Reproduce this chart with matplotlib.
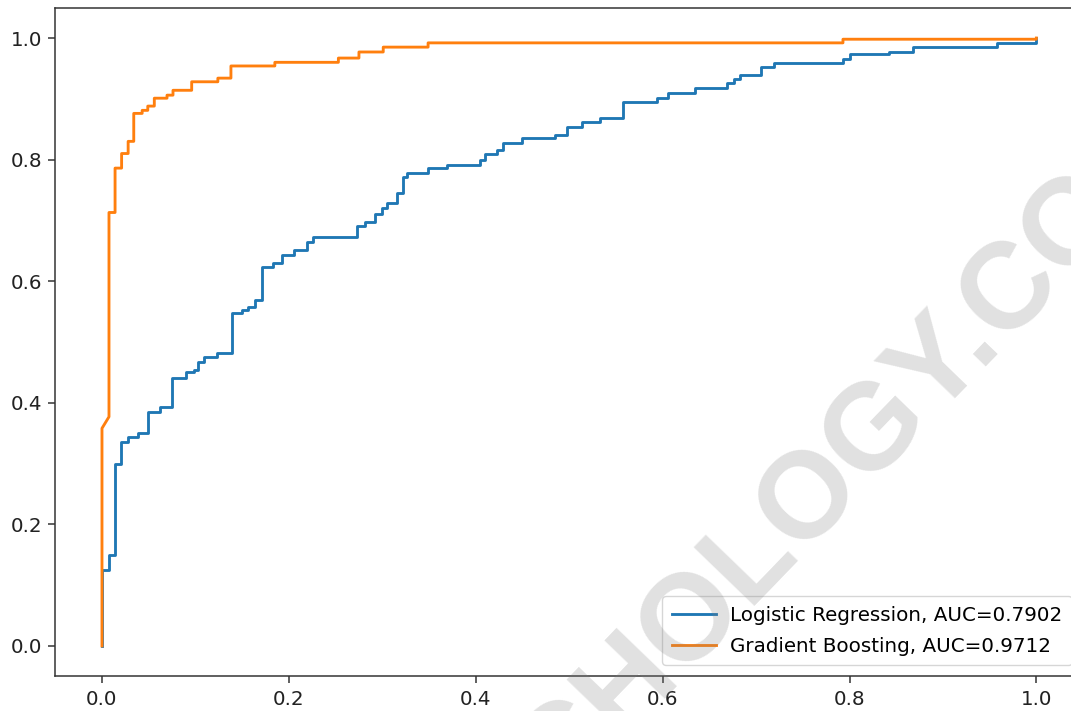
import matplotlib
matplotlib.use("Agg")
import matplotlib.pyplot as plt
import numpy as np

# ROC corner points (top of each vertical step)
lr_fpr = [0.0, 0.0, 0.007, 0.014, 0.020, 0.028, 0.039, 0.049, 0.062, 0.075,
          0.090, 0.098, 0.103, 0.109, 0.123, 0.139, 0.1495, 0.156, 0.164, 0.171,
          0.183, 0.193, 0.205, 0.219, 0.226, 0.273, 0.282, 0.292, 0.300, 0.305,
          0.316, 0.322, 0.326, 0.349, 0.369, 0.405, 0.410, 0.423, 0.429, 0.450,
          0.485, 0.498, 0.514, 0.533, 0.558, 0.594, 0.606, 0.635, 0.669, 0.676,
          0.683, 0.705, 0.719, 0.793, 0.801, 0.842, 0.868, 0.958, 1.0]
lr_tpr = [0.0, 0.125, 0.150, 0.300, 0.336, 0.344, 0.350, 0.385, 0.393, 0.440,
          0.450, 0.454, 0.467, 0.475, 0.482, 0.547, 0.553, 0.558, 0.569, 0.624,
          0.630, 0.643, 0.651, 0.665, 0.673, 0.690, 0.698, 0.710, 0.720, 0.728,
          0.745, 0.772, 0.778, 0.786, 0.791, 0.799, 0.810, 0.816, 0.827, 0.835,
          0.840, 0.854, 0.862, 0.868, 0.895, 0.902, 0.909, 0.918, 0.926, 0.932,
          0.939, 0.952, 0.959, 0.965, 0.974, 0.977, 0.985, 0.992, 1.0]

gb_fpr = [0.0, 0.0, 0.0075, 0.0075, 0.014, 0.021, 0.028, 0.034, 0.043, 0.049,
          0.056, 0.0696, 0.076, 0.096, 0.124, 0.138, 0.185, 0.253, 0.275, 0.301,
          0.349, 0.793, 1.0]
gb_tpr = [0.0, 0.358, 0.377, 0.713, 0.786, 0.810, 0.830, 0.876, 0.881, 0.888,
          0.901, 0.906, 0.914, 0.928, 0.934, 0.954, 0.960, 0.967, 0.977, 0.985,
          0.992, 0.998, 1.0]
gb_diag = [2]  # this point is reached by a slanted segment

labels = ["Logistic Regression, AUC=0.7902", "Gradient Boosting, AUC=0.9712"]


def staircase(fpr, tpr, diag=()):
    xs, ys = [fpr[0]], [tpr[0]]
    for i in range(1, len(fpr)):
        if i not in diag:
            xs.append(fpr[i]); ys.append(tpr[i - 1])
        xs.append(fpr[i]); ys.append(tpr[i])
    return xs, ys


s = 1.37  # scale of the screenshot relative to default sizes
plt.rcParams.update({
    "font.size": 14.3,
    "axes.linewidth": 0.8 * s,
    "axes.edgecolor": "#333333",
    "xtick.major.size": 3.5 * s, "ytick.major.size": 3.5 * s,
    "xtick.major.width": 0.8 * s, "ytick.major.width": 0.8 * s,
    "xtick.major.pad": 3.5 * s, "ytick.major.pad": 3.5 * s,
    "xtick.color": "#333333", "ytick.color": "#333333",
    "xtick.labelcolor": "#222222", "ytick.labelcolor": "#222222",
    "lines.linewidth": 1.5 * s,
})

fig = plt.figure(figsize=(10.71, 7.11), dpi=100)
ax = fig.add_axes([0.0516, 0.0487, 0.9597, 0.9406])

x1, y1 = staircase(lr_fpr, lr_tpr)
x2, y2 = staircase(gb_fpr, gb_tpr, gb_diag)
ax.plot(x1, y1, label=labels[0])
ax.plot(x2, y2, label=labels[1])
ax.legend(loc="lower right", labelspacing=0.6, borderpad=0.5,
          handlelength=2.2, handletextpad=0.7, borderaxespad=0.55)

ax.set_xticks(np.arange(0, 1.01, 0.2))
ax.set_yticks(np.arange(0, 1.01, 0.2))

# watermark
fig.text(0.522, -0.13, "CHOLOGY.COM", rotation=46,
         rotation_mode="anchor", ha="left", va="baseline", fontsize=88,
         fontweight="bold", family="Liberation Sans", color="#808080",
         alpha=0.24, zorder=10)

fig.savefig("out.png", dpi=100)
